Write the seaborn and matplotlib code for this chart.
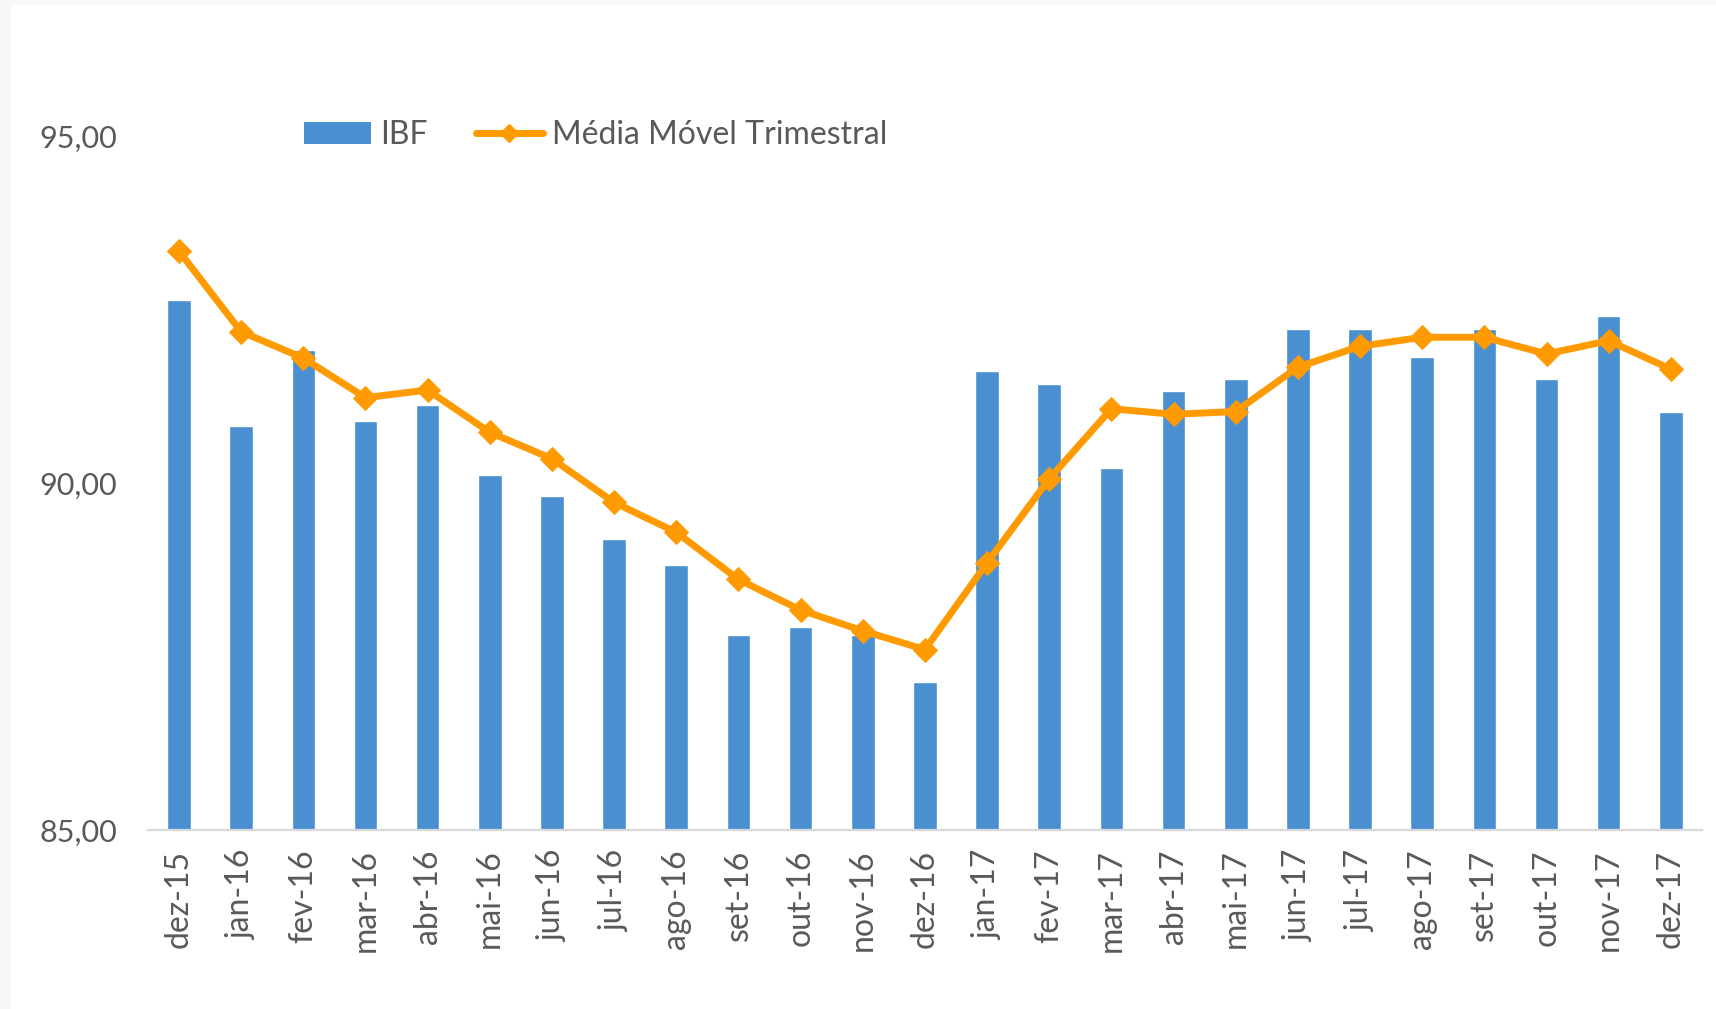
import matplotlib

matplotlib.use("Agg")
import matplotlib.pyplot as plt  # noqa: E402
import numpy as np  # noqa: E402
import pandas as pd  # noqa: E402
import seaborn as sns  # noqa: E402
from matplotlib.lines import Line2D  # noqa: E402
from matplotlib.patches import Patch, Rectangle  # noqa: E402

# data
months = [
    "dez-15", "jan-16", "fev-16", "mar-16", "abr-16", "mai-16", "jun-16",
    "jul-16", "ago-16", "set-16", "out-16", "nov-16", "dez-16", "jan-17",
    "fev-17", "mar-17", "abr-17", "mai-17", "jun-17", "jul-17", "ago-17",
    "set-17", "out-17", "nov-17", "dez-17",
]
ibf = [
    92.63, 90.82, 91.91, 90.90, 91.12, 90.11, 89.81, 89.20, 88.82, 87.81,
    87.92, 87.81, 87.13, 91.61, 91.42, 90.22, 91.32, 91.50, 92.22, 92.22,
    91.81, 92.22, 91.50, 92.41, 91.03,
]
media_movel = [
    93.34, 92.18, 91.80, 91.23, 91.34, 90.73, 90.35, 89.72, 89.29, 88.61,
    88.17, 87.87, 87.60, 88.85, 90.06, 91.07, 90.99, 91.03, 91.67, 91.97,
    92.10, 92.10, 91.86, 92.05, 91.64,
]
y_ticks = [85, 90, 95]

BLUE = "#4A90D0"
ORANGE = "#FF9A00"
TEXT = "#595959"

df = pd.DataFrame({"mes": months, "IBF": ibf, "mm": media_movel})

sns.set_theme(style="white")
plt.rcParams["font.family"] = ["Lato", "DejaVu Sans"]

fig = plt.figure(figsize=(17.16, 10.09), dpi=100, facecolor="#F8F8F8")
# white chart area inside the light grey screenshot border
fig.add_artist(
    Rectangle((11 / 1716, 0), 1, 1 - 5 / 1009, transform=fig.transFigure,
              facecolor="white", edgecolor="none", zorder=-10)
)
ax = fig.add_axes([0.0862, 0.1774, 0.9056, 0.6878])
ax.set_facecolor("white")

sns.barplot(data=df, x="mes", y="IBF", color=BLUE, width=0.38,
            saturation=1, ax=ax, zorder=2)
sns.pointplot(data=df, x="mes", y="mm", color=ORANGE, markers="D",
              markersize=9.5, linewidth=5, ax=ax, zorder=3)

ax.set_ylim(85, 95)
ax.set_xlim(-0.5, len(months) - 0.5)
ax.set_yticks(y_ticks)
ax.set_yticklabels([f"{v:.2f}".replace(".", ",") for v in y_ticks])
ax.set_xlabel("")
ax.set_ylabel("")
ax.tick_params(axis="y", length=0, pad=22, labelsize=22, labelcolor=TEXT)
ax.tick_params(axis="x", length=0, pad=14, labelsize=23, labelcolor=TEXT,
               labelrotation=90)
for side in ["top", "right", "left"]:
    ax.spines[side].set_visible(False)
ax.spines["bottom"].set_color("#D9D9D9")
ax.spines["bottom"].set_linewidth(1.6)
ax.spines["bottom"].set_zorder(4)
ax.grid(False)

handles = [
    Patch(facecolor=BLUE, edgecolor="none", label="IBF"),
    Line2D([0], [0], color=ORANGE, lw=5, marker="D", markersize=9.5,
           label="Média Móvel Trimestral"),
]
fig.legend(handles=handles, loc="center left",
           bbox_to_anchor=(275 / 1716, 1 - 135 / 1009), ncol=2, frameon=False,
           fontsize=23, labelcolor=TEXT, handlelength=2.1, handletextpad=0.3,
           columnspacing=1.5, handleheight=0.7)

fig.savefig("out.png", dpi=100, facecolor=fig.get_facecolor())
plt.close(fig)
